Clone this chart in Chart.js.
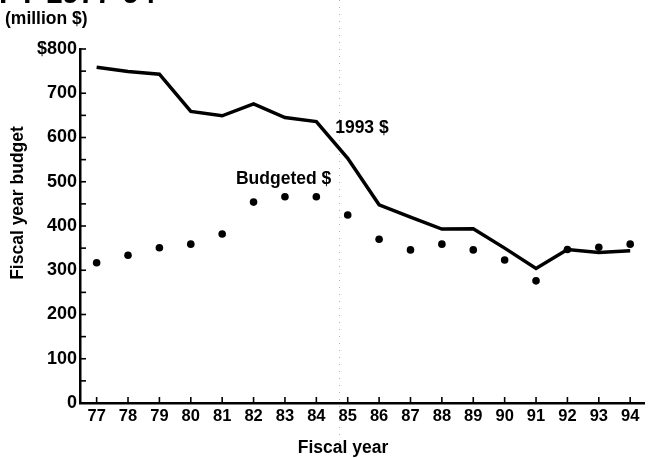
<!DOCTYPE html>
<html><head><meta charset="utf-8">
<script src="https://cdn.jsdelivr.net/npm/chart.js@4/dist/chart.umd.min.js"></script>
<style>html,body{margin:0;padding:0;background:#fff}#wrap{position:relative;width:648px;height:458px}</style>
</head><body><div id="wrap"><canvas id="c" width="648" height="458"></canvas></div>
<script>
const years = [77,78,79,80,81,82,83,84,85,86,87,88,89,90,91,92,93,94];
const yearLabels = ["77","78","79","80","81","82","83","84","85","86","87","88","89","90","91","92","93","94"];
const constant1993 = [759,749,743,659,649,676,645,636,553,448,420,393,394,350,304,347,340,344];
const budgeted = [317,334,351,359,382,454,466,466,425,370,346,359,346,323,276,347,352,359];
const yTickValues = [0,50,100,150,200,250,300,350,400,450,500,550,600,650,700,750,800];
const yTickLabels = {0:"0",100:"100",200:"200",300:"300",400:"400",500:"500",600:"600",700:"700",800:"$800"};
const titleText = "FY 1977-94";
const unitText = "(million $)";
const xTitle = "Fiscal year";
const yTitle = "Fiscal year budget";
const seriesLabels = [{text:"1993 $", x:84.6, y:622}, {text:"Budgeted $", x:81.44, y:506}];
const dividerYear = 84.72;

const FONT = "'Liberation Sans', Arial, Helvetica, sans-serif";

const extras = {
  id: 'extras',
  beforeDatasetsDraw(chart) {
    const ctx = chart.ctx, xs = chart.scales.x;
    const px = Math.round(xs.getPixelForValue(dividerYear)) + 0.5;
    ctx.save();
    ctx.strokeStyle = '#b0b0b0'; ctx.lineWidth = 1; ctx.setLineDash([1, 6]);
    ctx.beginPath(); ctx.moveTo(px, 0); ctx.lineTo(px, 442); ctx.stroke();
    ctx.restore();
  },
  afterDraw(chart) {
    const ctx = chart.ctx, xs = chart.scales.x, ys = chart.scales.y;
    ctx.save();
    ctx.strokeStyle = '#000'; ctx.lineWidth = 1.6;
    yTickValues.forEach(v => {
      if (v === 0) return;
      const py = ys.getPixelForValue(v);
      ctx.beginPath(); ctx.moveTo(ys.right, py); ctx.lineTo(ys.right + 6, py); ctx.stroke();
    });
    years.forEach(v => {
      const px = xs.getPixelForValue(v);
      ctx.beginPath(); ctx.moveTo(px, xs.top); ctx.lineTo(px, xs.top - 6); ctx.stroke();
    });
    ctx.fillStyle = '#000';
    ctx.font = 'bold 17.5px ' + FONT;
    ctx.textBaseline = 'middle';
    ctx.textAlign = 'left';
    seriesLabels.forEach(l => {
      ctx.fillText(l.text, xs.getPixelForValue(l.x), ys.getPixelForValue(l.y));
    });
    ctx.fillText(unitText, 5, 19);
    ctx.textAlign = 'center';
    ctx.fillText(xTitle, 343, 448);
    ctx.save();
    ctx.translate(18, 203); ctx.rotate(-Math.PI / 2);
    ctx.fillText(yTitle, 0, 0);
    ctx.restore();
    ctx.textAlign = 'left'; ctx.textBaseline = 'alphabetic';
    ctx.font = 'bold 30px ' + FONT;
    ctx.fillText(titleText, -1, 3);
    ctx.restore();
  }
};

new Chart(document.getElementById('c'), {
  type: 'line',
  data: {
    datasets: [
      { label: '1993 $', data: years.map((x, i) => ({x, y: constant1993[i]})),
        borderColor: '#000', borderWidth: 3.5, pointRadius: 0, tension: 0, fill: false },
      { type: 'scatter', label: 'Budgeted $', data: years.map((x, i) => ({x, y: budgeted[i]})),
        showLine: false, pointRadius: 3.8, pointBackgroundColor: '#000', pointBorderWidth: 0 }
    ]
  },
  options: {
    responsive: false, animation: false,
    layout: { padding: { top: 49, left: 0, right: 0, bottom: 0 } },
    plugins: { legend: { display: false }, tooltip: { enabled: false } },
    scales: {
      x: {
        type: 'linear', min: 76.47, max: 94.44,
        afterBuildTicks: s => { s.ticks = years.map(v => ({value: v})); },
        afterFit: s => { s.height = 55; },
        grid: { display: false, drawTicks: false },
        border: { display: true, color: '#000', width: 2.5 },
        ticks: { autoSkip: false, maxRotation: 0, padding: 4, color: '#000',
          font: { family: FONT, size: 16.5, weight: 'bold' },
          callback: v => yearLabels[years.indexOf(v)] }
      },
      y: {
        min: 0, max: 800,
        afterBuildTicks: s => { s.ticks = yTickValues.map(v => ({value: v})); },
        afterFit: s => { s.width = 80; },
        grid: { display: false, drawTicks: false },
        border: { display: true, color: '#000', width: 2.5 },
        ticks: { padding: 3, color: '#000',
          font: { family: FONT, size: 18, weight: 'bold' },
          callback: v => yTickLabels[v] !== undefined ? yTickLabels[v] : '' }
      }
    }
  },
  plugins: [extras]
});
</script></body></html>
